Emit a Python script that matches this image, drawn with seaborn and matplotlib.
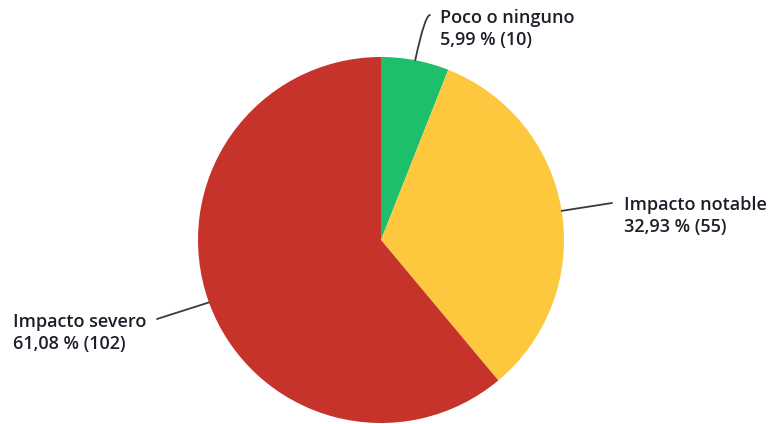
import matplotlib
matplotlib.use('Agg')
import matplotlib.pyplot as plt
import seaborn as sns
import numpy as np

sns.set_theme(style='white')
plt.rcParams['font.family'] = ['Open Sans', 'DejaVu Sans']

labels = ['Poco o ninguno', 'Impacto notable', 'Impacto severo']
counts = [10, 55, 102]
pcts = [5.99, 32.93, 61.08]
colors = ['#1dbf6c', '#fec83e', '#c6332a']

# label placement (figure pixels, top-left origin) and leader line ends
text_pos = [(440, 29), (624, 216), (13, 333)]
line_end = [(430, 15), (612, 203), (157, 319)]
conn = ['angle3,angleA=0,angleB=78', 'arc3,rad=0', 'arc3,rad=0']

W, H = 774, 424
fig = plt.figure(figsize=(W / 100, H / 100), dpi=100)
cx, cy, r = 381, 240, 183
ax = fig.add_axes([(cx - r) / W, (H - cy - r) / H, 2 * r / W, 2 * r / H])

wedges, _ = ax.pie(counts, colors=colors, startangle=90, counterclock=False,
                   radius=1, wedgeprops=dict(linewidth=0))
ax.set_xlim(-1, 1)
ax.set_ylim(-1, 1)
ax.set_aspect('equal')
ax.axis('off')

for i, w in enumerate(wedges):
    mid = np.deg2rad((w.theta1 + w.theta2) / 2)
    xy = (np.cos(mid), np.sin(mid))
    ex, ey = line_end[i]
    ax.annotate('', xy=xy, xycoords='data',
                xytext=(ex, H - ey), textcoords='figure pixels',
                annotation_clip=False,
                arrowprops=dict(arrowstyle='-', color='#3a3a3a', lw=1.3,
                                shrinkA=0, shrinkB=0,
                                connectionstyle=conn[i]))
    pct = f'{pcts[i]:.2f}'.replace('.', ',')
    txt = f'{labels[i]}\n{pct} % ({counts[i]})'
    tx, ty = text_pos[i]
    fig.text(tx / W, 1 - ty / H, txt, ha='left', va='center',
             fontsize=13, fontweight='semibold', color='#1e1e2a',
             linespacing=1.25)

fig.savefig('out.png', dpi=100)
